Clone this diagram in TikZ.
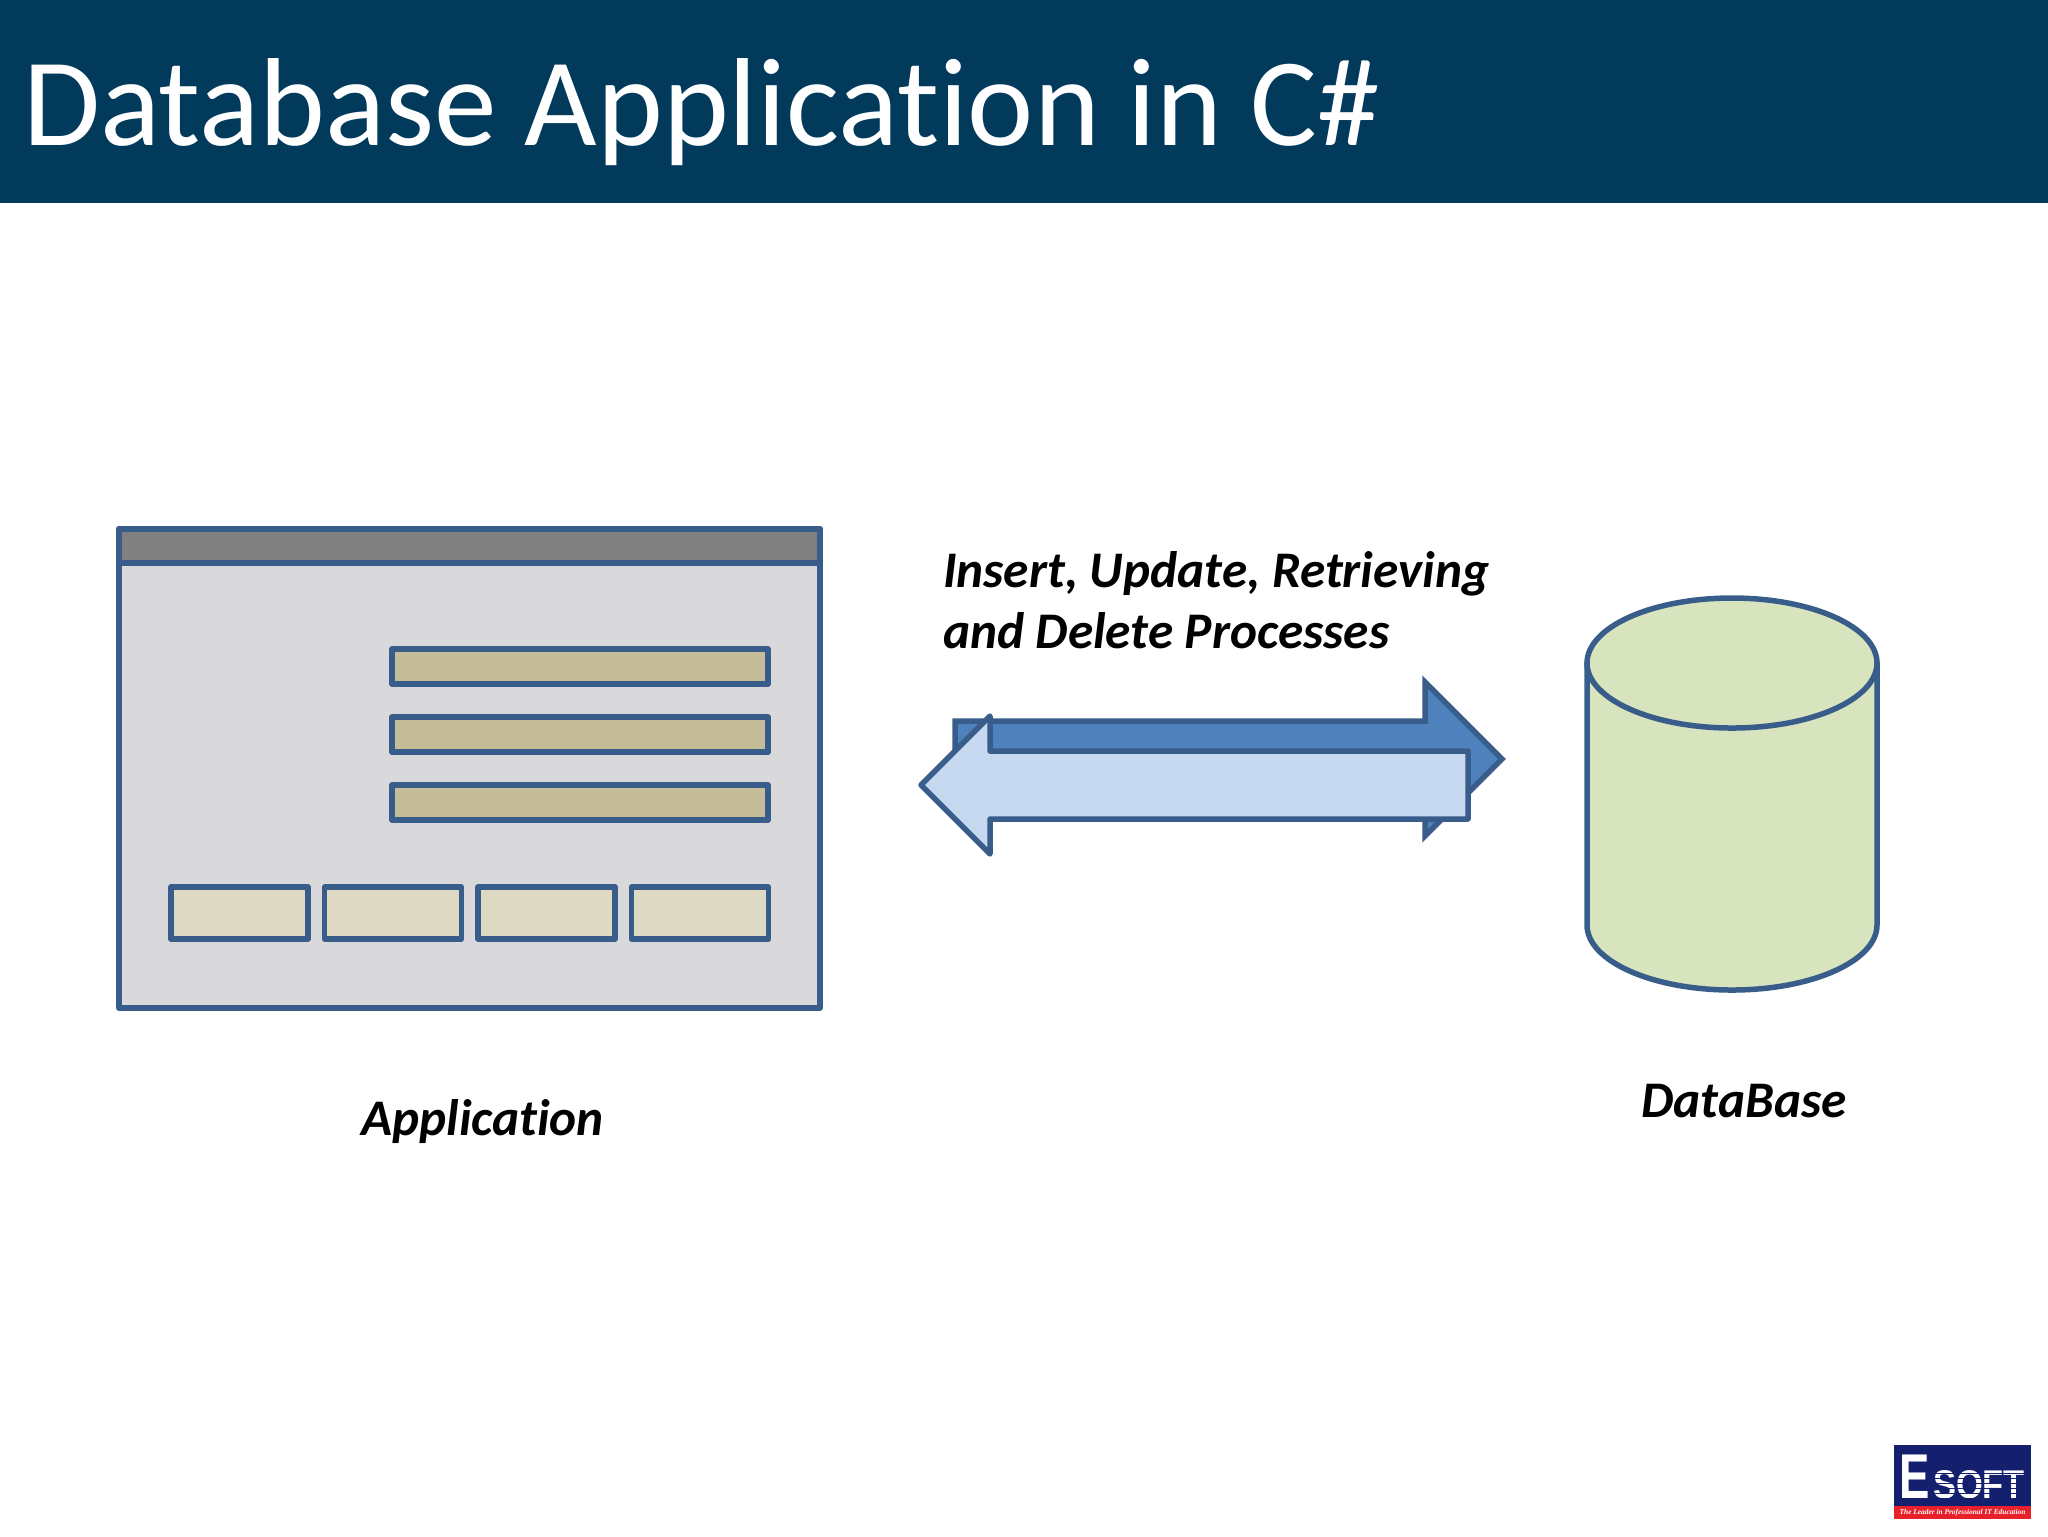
\documentclass[tikz,border=0pt]{standalone}
\usepackage{fontspec}
\setmainfont{Carlito}[Ligatures=NoCommon]
\newfontfamily\logofont{Liberation Sans}
\newfontfamily\logoserif{Liberation Serif}
\usetikzlibrary{positioning}
\definecolor{headcol}{HTML}{023A5C}
\definecolor{edgecol}{HTML}{385D8A}
\definecolor{wincol}{HTML}{D9D9DB}
\definecolor{barcol}{HTML}{808080}
\definecolor{inputcol}{HTML}{C4BD97}
\definecolor{btncol}{HTML}{DDD9C3}
\definecolor{dbcol}{HTML}{D7E4BD}
\definecolor{arrowdark}{HTML}{4F81BD}
\definecolor{arrowlight}{HTML}{C6D9F0}
\definecolor{logoblue}{HTML}{14206E}
\definecolor{logored}{HTML}{E8202A}
\begin{document}
\begin{tikzpicture}[x=0.1mm,y=-0.1mm,line width=0.55mm,line join=round,node distance=1cm,every node/.style={outer sep=0pt}]
      \tikzstyle{block}=[draw=edgecol,rectangle,inner sep=0pt]
      \tikzstyle{inputbox}=[block,fill=inputcol,minimum width=37.6mm,minimum height=3.5mm]
      \tikzstyle{btnbox}=[block,fill=btncol,minimum width=13.7mm,minimum height=5.2mm]
      \tikzstyle{label}=[font=\fontsize{14.6pt}{17.35pt}\selectfont\bfseries\itshape,inner sep=0pt]
      \useasboundingbox (0,0) rectangle (2048,1536);

      % header
      \node[fill=headcol,inner sep=0pt,minimum width=204.8mm,minimum height=20.3mm,anchor=north west] (header) at (0,0) {};
      \node[text=white,inner sep=0pt,anchor=base west,font=\fontsize{35.65pt}{40pt}\selectfont] (title) at (23,145) {Database Application in C\#};

      % application window
      \node[block,fill=wincol,minimum width=70.1mm,minimum height=47.9mm,anchor=north west] (window) at (119,529) {};
      \node[block,fill=barcol,minimum width=70.1mm,minimum height=3.4mm,anchor=north west] (titlebar) at (window.north west) {};
      \node[inputbox,anchor=north west] (input1) at (392,649) {};
      \node[inputbox,below=3.3mm of input1] (input2) {};
      \node[inputbox,below=3.3mm of input2] (input3) {};
      \node[btnbox,anchor=north west] (btn1) at (171,887) {};
      \node[btnbox,right=1.65mm of btn1] (btn2) {};
      \node[btnbox,right=1.65mm of btn2] (btn3) {};
      \node[btnbox,right=1.65mm of btn3] (btn4) {};
      \node[label,below=9.1mm of window,xshift=1.3mm] (applabel) {Application};

      % arrows
      \draw[draw=edgecol,fill=arrowdark,line join=miter] (955,721)--(1425,721)--(1425,682)--(1502,759)--(1425,836)--(1425,797)--(955,797)--cycle;
      \draw[draw=edgecol,fill=arrowlight] (921,785)--(990,716)--(990,751)--(1468,751)--(1468,819)--(990,819)--(990,854)--cycle;
      \node[label,anchor=base west,align=left] (ops) at (943,648) {Insert, Update, Retrieving\\and Delete Processes};

      % database
      \path[draw=edgecol,fill=dbcol] (1587,663) -- (1587,925) arc[start angle=180,end angle=360,x radius=14.5mm,y radius=6.5mm] -- (1877,663) -- cycle;
      \draw[draw=edgecol,fill=dbcol] (1732,663) ellipse [x radius=14.5mm,y radius=6.5mm];
      \coordinate (dbbase) at (1732,990);
      \node[label,below=9.4mm of dbbase,xshift=1.2mm] (dblabel) {DataBase};

      % logo
      \node[fill=logoblue,inner sep=0pt,minimum width=13.7mm,minimum height=6.1mm,anchor=north west] (logo) at (1894,1445) {};
      \node[fill=logored,inner sep=0pt,minimum width=13.7mm,minimum height=1.3mm,below=0pt of logo] (logoband) {};
      \node[text=white,inner sep=0pt,anchor=base west,xscale=0.72,transform shape,font=\logofont\bfseries\fontsize{18pt}{18pt}\selectfont] (logoE) at (1899,1498) {E};
      \node[text=white,inner sep=0pt,anchor=base west,xscale=0.86,transform shape,font=\logofont\bfseries\fontsize{11.4pt}{12pt}\selectfont] (logosoft) at (1933,1498) {SOFT};
      \foreach \y in {1473,1478,...,1498}
        \fill[logoblue] (1932,\y) rectangle (2028,\y+1.2);
      \node[text=white,inner sep=0pt,font=\logoserif\bfseries\itshape\fontsize{2.1pt}{3pt}\selectfont] (tagline) at (logoband.center) {The Leader in Professional IT Education};
\end{tikzpicture}
\end{document}
